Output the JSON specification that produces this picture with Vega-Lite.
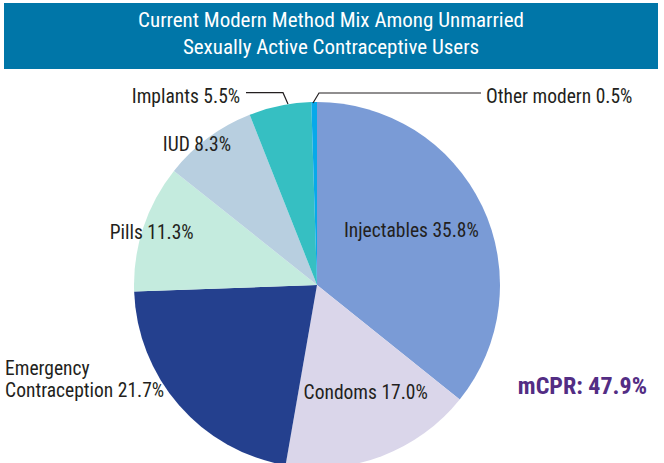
{
  "$schema": "https://vega.github.io/schema/vega-lite/v6.json",
  "padding": {"left": 4, "top": 3, "right": 0, "bottom": 0},
  "background": "white",
  "spacing": 0,
  "bounds": "flush",
  "config": {"view": {"stroke": null}},
  "datasets": {
    "methods": [
      {"method": "Injectables", "value": 35.8, "rank": 1, "label": "Injectables 35.8%"},
      {"method": "Condoms", "value": 17.0, "rank": 2, "label": "Condoms 17.0%"},
      {"method": "Emergency Contraception", "value": 21.7, "rank": 3, "label": "Emergency\nContraception 21.7%"},
      {"method": "Pills", "value": 11.3, "rank": 4, "label": "Pills 11.3%"},
      {"method": "IUD", "value": 8.3, "rank": 5, "label": "IUD 8.3%"},
      {"method": "Implants", "value": 5.5, "rank": 6, "label": "Implants 5.5%"},
      {"method": "Other modern", "value": 0.5, "rank": 7, "label": "Other modern 0.5%"}
    ],
    "leaders": [
      {"id": "Implants", "k": 1, "x": -0.388, "y": 1.0508},
      {"id": "Implants", "k": 2, "x": -0.1858, "y": 1.0508},
      {"id": "Implants", "k": 3, "x": -0.1585, "y": 0.9891},
      {"id": "Other modern", "k": 1, "x": -0.0219, "y": 0.9945},
      {"id": "Other modern", "k": 2, "x": 0.0109, "y": 1.0492},
      {"id": "Other modern", "k": 3, "x": 0.8962, "y": 1.0492}
    ]
  },
  "vconcat": [
    {
      "width": 654,
      "height": 66,
      "view": {"fill": "#0076a8", "stroke": null},
      "data": {"values": [{"t": "Current Modern Method Mix Among Unmarried\nSexually Active Contraceptive Users"}]},
      "mark": {"type": "text", "color": "white", "font": "Roboto Condensed, Noto Sans Condensed, Open Sans Condensed, Liberation Sans", "fontSize": 21, "lineHeight": 27, "lineBreak": "\n", "baseline": "middle", "align": "center", "dy": -15},
      "encoding": {"text": {"field": "t", "type": "nominal"}}
    },
    {
      "width": 660,
      "height": 394,
      "layer": [
        {
          "data": {"name": "methods"},
          "mark": {"type": "arc", "outerRadius": 183, "clip": true},
          "encoding": {
            "theta": {"field": "value", "type": "quantitative", "stack": true},
            "order": {"field": "rank", "type": "quantitative"},
            "color": {"field": "method", "type": "nominal", "legend": null,
              "scale": {"domain": ["Injectables", "Condoms", "Emergency Contraception", "Pills", "IUD", "Implants", "Other modern"],
                        "range": ["#7a9bd6", "#dad6ea", "#24408e", "#c4ebde", "#b8cfe0", "#36bfc2", "#07a9ea"]}},
            "x": {"datum": 0, "type": "quantitative", "scale": {"domain": [-1.7104, 1.8962], "nice": false, "zero": false}, "axis": null},
            "y": {"datum": 0, "type": "quantitative", "scale": {"domain": [-0.9727, 1.1803], "nice": false, "zero": false}, "axis": null}
          }
        },
        {
          "data": {"name": "methods"},
          "mark": {"type": "text", "clip": true, "radius": 108, "dx": -3, "dy": -7, "align": "center", "baseline": "middle", "font": "Roboto Condensed, Noto Sans Condensed, Open Sans Condensed, Liberation Sans", "fontSize": 19.5, "color": "#231f20"},
          "encoding": {
            "theta": {"field": "value", "type": "quantitative", "stack": true},
            "order": {"field": "rank", "type": "quantitative"},
            "x": {"datum": 0, "type": "quantitative"},
            "y": {"datum": 0, "type": "quantitative"},
            "text": {"condition": {"test": "datum.method === 'Injectables'", "field": "label", "type": "nominal"}, "value": ""}
          }
        },
        {
          "data": {"name": "methods"},
          "mark": {"type": "text", "clip": true, "radius": 118, "dx": 7, "dy": -2, "align": "center", "baseline": "middle", "font": "Roboto Condensed, Noto Sans Condensed, Open Sans Condensed, Liberation Sans", "fontSize": 19.5, "color": "#231f20"},
          "encoding": {
            "theta": {"field": "value", "type": "quantitative", "stack": true},
            "order": {"field": "rank", "type": "quantitative"},
            "x": {"datum": 0, "type": "quantitative"},
            "y": {"datum": 0, "type": "quantitative"},
            "text": {"condition": {"test": "datum.method === 'Condoms'", "field": "label", "type": "nominal"}, "value": ""}
          }
        },
        {
          "data": {"name": "methods"},
          "mark": {"type": "text", "clip": true, "radius": 144.5, "dx": -203, "dy": -10.5, "align": "left", "baseline": "middle", "lineBreak": "\n", "lineHeight": 21.5, "font": "Roboto Condensed, Noto Sans Condensed, Open Sans Condensed, Liberation Sans", "fontSize": 19.5, "color": "#231f20"},
          "encoding": {
            "theta": {"field": "value", "type": "quantitative", "stack": true},
            "order": {"field": "rank", "type": "quantitative"},
            "x": {"datum": 0, "type": "quantitative"},
            "y": {"datum": 0, "type": "quantitative"},
            "text": {"condition": {"test": "datum.method === 'Emergency Contraception'", "field": "label", "type": "nominal"}, "value": ""}
          }
        },
        {
          "data": {"name": "methods"},
          "mark": {"type": "text", "clip": true, "radius": 173, "dx": -1, "dy": 2, "align": "center", "baseline": "middle", "font": "Roboto Condensed, Noto Sans Condensed, Open Sans Condensed, Liberation Sans", "fontSize": 19.5, "color": "#231f20"},
          "encoding": {
            "theta": {"field": "value", "type": "quantitative", "stack": true},
            "order": {"field": "rank", "type": "quantitative"},
            "x": {"datum": 0, "type": "quantitative"},
            "y": {"datum": 0, "type": "quantitative"},
            "text": {"condition": {"test": "datum.method === 'Pills'", "field": "label", "type": "nominal"}, "value": ""}
          }
        },
        {
          "data": {"name": "methods"},
          "mark": {"type": "text", "clip": true, "radius": 180, "dx": -13, "dy": 5, "align": "center", "baseline": "middle", "font": "Roboto Condensed, Noto Sans Condensed, Open Sans Condensed, Liberation Sans", "fontSize": 19.5, "color": "#231f20"},
          "encoding": {
            "theta": {"field": "value", "type": "quantitative", "stack": true},
            "order": {"field": "rank", "type": "quantitative"},
            "x": {"datum": 0, "type": "quantitative"},
            "y": {"datum": 0, "type": "quantitative"},
            "text": {"condition": {"test": "datum.method === 'IUD'", "field": "label", "type": "nominal"}, "value": ""}
          }
        },
        {
          "data": {"name": "methods"},
          "mark": {"type": "text", "clip": true, "radius": 192, "dx": -38, "dy": 0, "align": "right", "baseline": "middle", "font": "Roboto Condensed, Noto Sans Condensed, Open Sans Condensed, Liberation Sans", "fontSize": 19.5, "color": "#231f20"},
          "encoding": {
            "theta": {"field": "value", "type": "quantitative", "stack": true},
            "order": {"field": "rank", "type": "quantitative"},
            "x": {"datum": 0, "type": "quantitative"},
            "y": {"datum": 0, "type": "quantitative"},
            "text": {"condition": {"test": "datum.method === 'Implants'", "field": "label", "type": "nominal"}, "value": ""}
          }
        },
        {
          "data": {"name": "methods"},
          "mark": {"type": "text", "clip": true, "radius": 188, "dx": 172, "dy": 0, "align": "left", "baseline": "middle", "font": "Roboto Condensed, Noto Sans Condensed, Open Sans Condensed, Liberation Sans", "fontSize": 19.5, "color": "#231f20"},
          "encoding": {
            "theta": {"field": "value", "type": "quantitative", "stack": true},
            "order": {"field": "rank", "type": "quantitative"},
            "x": {"datum": 0, "type": "quantitative"},
            "y": {"datum": 0, "type": "quantitative"},
            "text": {"condition": {"test": "datum.method === 'Other modern'", "field": "label", "type": "nominal"}, "value": ""}
          }
        },
        {
          "data": {"name": "leaders"},
          "mark": {"type": "line", "color": "#231f20", "strokeWidth": 1.2},
          "encoding": {
            "x": {"field": "x", "type": "quantitative"},
            "y": {"field": "y", "type": "quantitative"},
            "detail": {"field": "id", "type": "nominal"},
            "order": {"field": "k", "type": "quantitative"}
          }
        },
        {
          "data": {"values": [{"note": "mCPR: 47.9%"}]},
          "mark": {"type": "text", "align": "right", "baseline": "middle", "font": "Roboto Condensed, Noto Sans Condensed, Open Sans Condensed, Liberation Sans", "fontSize": 24, "fontWeight": "bold", "color": "#532d84"},
          "encoding": {
            "x": {"datum": 1.8033, "type": "quantitative"},
            "y": {"datum": -0.5574, "type": "quantitative"},
            "text": {"field": "note", "type": "nominal"}
          }
        }
      ]
    }
  ]
}
